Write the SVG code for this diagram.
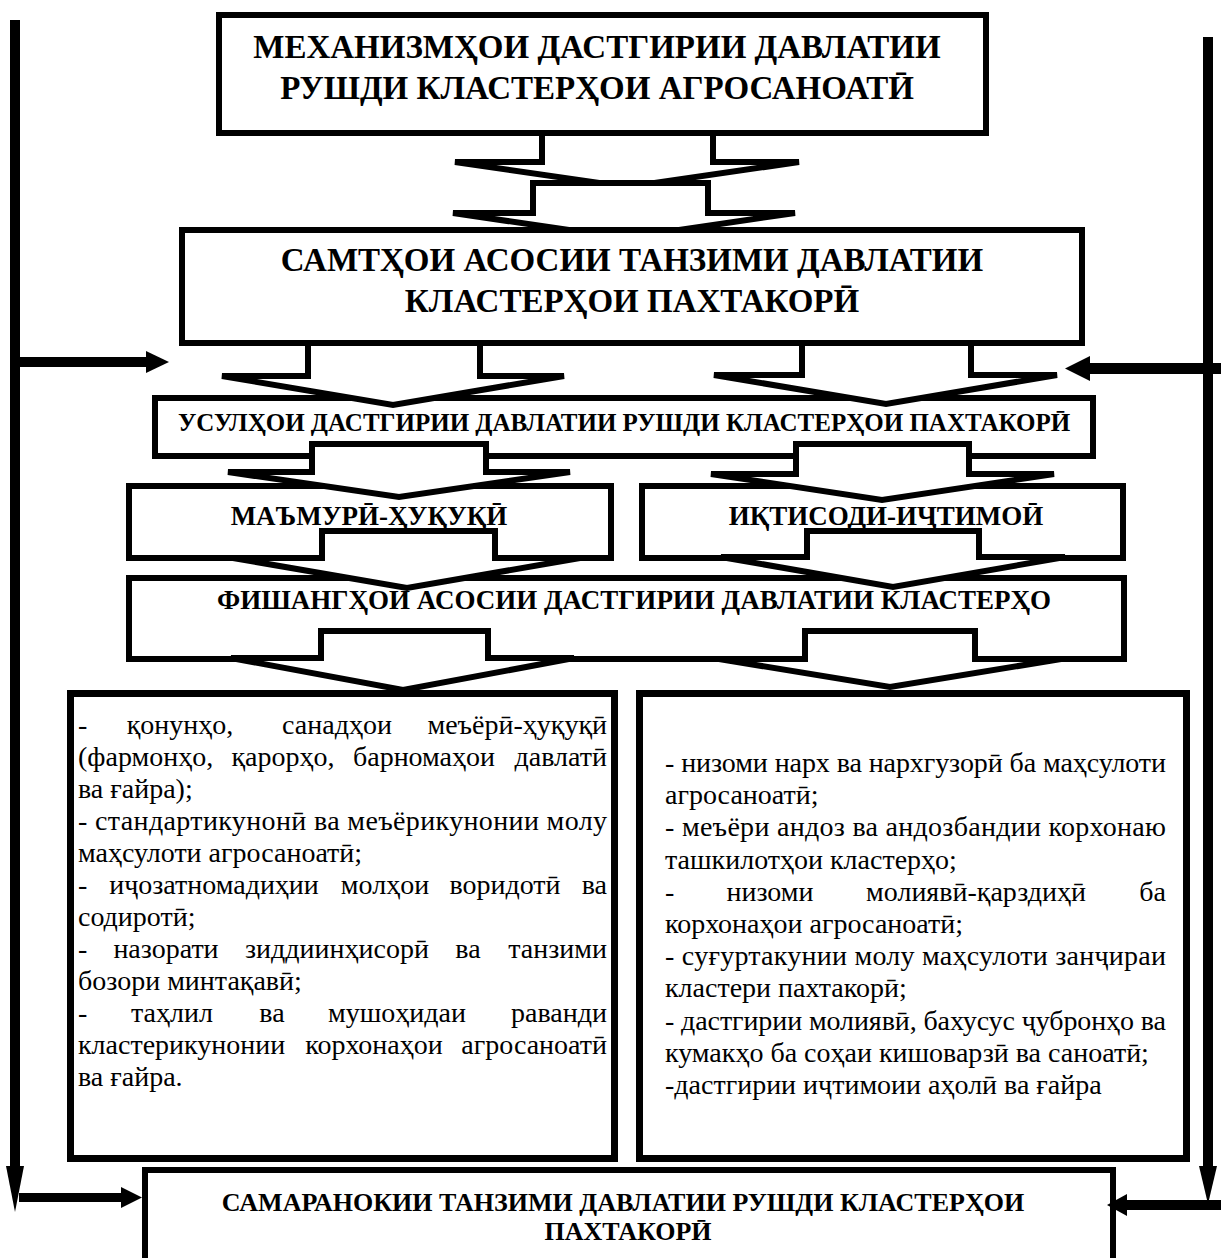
<svg xmlns="http://www.w3.org/2000/svg" width="1221" height="1258" viewBox="0 0 1221 1258">
<style>
.box{fill:#fff;stroke:#000;stroke-width:6}
.blk{fill:#fff;stroke:#000;stroke-width:6;stroke-linejoin:miter}
.ln{fill:#000;stroke:none}
.h{font-family:'Liberation Serif','DejaVu Serif',serif;font-weight:bold;text-anchor:middle;fill:#000}
.b{font-family:'Liberation Serif','DejaVu Serif',serif;font-size:28px;fill:#000}
.m{text-anchor:middle}
.e{text-anchor:end}
</style>
<rect x="0" y="0" width="1221" height="1258" fill="#fff"/>

<g id="n1">
<rect class="box" x="219" y="15" width="767" height="118"/>
<text class="h" font-size="33" x="597" y="58">МЕХАНИЗМҲОИ ДАСТГИРИИ ДАВЛАТИИ</text>
<text class="h" font-size="33" x="597" y="99">РУШДИ КЛАСТЕРҲОИ АГРОСАНОАТӢ</text>
</g>

<g id="n2">
<rect class="box" x="182" y="230" width="900" height="113"/>
<text class="h" font-size="33" x="632" y="271">САМТҲОИ АСОСИИ ТАНЗИМИ ДАВЛАТИИ</text>
<text class="h" font-size="33" x="632" y="312">КЛАСТЕРҲОИ ПАХТАКОРӢ</text>
</g>

<g id="n3">
<rect class="box" x="155" y="398" width="938" height="58"/>
<text class="h" font-size="25" x="624" y="431">УСУЛҲОИ ДАСТГИРИИ ДАВЛАТИИ РУШДИ КЛАСТЕРҲОИ ПАХТАКОРӢ</text>
</g>

<g id="n4a">
<rect class="box" x="129" y="486" width="482" height="72"/>
<text class="h" font-size="27" x="369" y="525">МАЪМУРӢ-ҲУҚУҚӢ</text>
</g>

<g id="n4b">
<rect class="box" x="642" y="486" width="481" height="72"/>
<text class="h" font-size="27" x="886" y="525">ИҚТИСОДИ-ИҶТИМОӢ</text>
</g>

<g id="n5">
<rect class="box" x="129" y="578" width="995" height="81"/>
<text class="h" font-size="27" x="634" y="609">ФИШАНГҲОИ АСОСИИ ДАСТГИРИИ ДАВЛАТИИ КЛАСТЕРҲО</text>
</g>

<g id="n6a">
<rect class="box" x="70.5" y="693.5" width="544" height="465" style="stroke-width:7"/>
<text class="b" x="78" y="734">-</text>
<text class="b m" x="180" y="734">қонунҳо,</text>
<text class="b m" x="337" y="734">санадҳои</text>
<text class="b e" x="607" y="734">меъёрӣ-ҳуқуқӣ</text>
<text class="b" x="78" y="766">(фармонҳо,</text>
<text class="b m" x="283" y="766">қарорҳо,</text>
<text class="b m" x="424" y="766">барномаҳои</text>
<text class="b e" x="607" y="766">давлатӣ</text>
<text class="b" x="78" y="798">ва ғайра);</text>
<text class="b" x="78" y="830" textLength="529" lengthAdjust="spacing">- стандартикунонӣ ва меъёрикунонии молу</text>
<text class="b" x="78" y="862">маҳсулоти агросаноатӣ;</text>
<text class="b" x="78" y="894">-</text>
<text class="b m" x="214" y="894">иҷозатномадиҳии</text>
<text class="b m" x="385" y="894">молҳои</text>
<text class="b m" x="505" y="894">воридотӣ</text>
<text class="b e" x="607" y="894">ва</text>
<text class="b" x="78" y="926">содиротӣ;</text>
<text class="b" x="78" y="958">-</text>
<text class="b m" x="166" y="958">назорати</text>
<text class="b m" x="337" y="958">зиддиинҳисорӣ</text>
<text class="b m" x="468" y="958">ва</text>
<text class="b e" x="607" y="958">танзими</text>
<text class="b" x="78" y="990">бозори минтақавӣ;</text>
<text class="b" x="78" y="1022">-</text>
<text class="b m" x="172" y="1022">таҳлил</text>
<text class="b m" x="272" y="1022">ва</text>
<text class="b m" x="397" y="1022">мушоҳидаи</text>
<text class="b e" x="607" y="1022">раванди</text>
<text class="b" x="78" y="1054">кластерикунонии</text>
<text class="b m" x="374" y="1054">корхонаҳои</text>
<text class="b e" x="607" y="1054">агросаноатӣ</text>
<text class="b" x="78" y="1086">ва ғайра.</text>
</g>

<g id="n6b">
<rect class="box" x="639.5" y="693.5" width="547" height="465" style="stroke-width:7"/>
<text class="b" x="665" y="772" textLength="501" lengthAdjust="spacing">- низоми нарх ва нархгузорӣ ба маҳсулоти</text>
<text class="b" x="665" y="804">агросаноатӣ;</text>
<text class="b" x="665" y="836" textLength="501" lengthAdjust="spacing">- меъёри андоз ва андозбандии корхонаю</text>
<text class="b" x="665" y="869">ташкилотҳои кластерҳо;</text>
<text class="b" x="665" y="901">-</text>
<text class="b m" x="770" y="901">низоми</text>
<text class="b m" x="976" y="901">молиявӣ-қарздиҳӣ</text>
<text class="b e" x="1166" y="901">ба</text>
<text class="b" x="665" y="933">корхонаҳои агросаноатӣ;</text>
<text class="b" x="665" y="965" textLength="501" lengthAdjust="spacing">- суғуртакунии молу маҳсулоти занҷираи</text>
<text class="b" x="665" y="997">кластери пахтакорӣ;</text>
<text class="b" x="665" y="1030" textLength="501" lengthAdjust="spacing">- дастгирии молиявӣ, бахусус ҷубронҳо ва</text>
<text class="b" x="665" y="1062">кумакҳо ба соҳаи кишоварзӣ ва саноатӣ;</text>
<text class="b" x="665" y="1094">-дастгирии иҷтимоии аҳолӣ ва ғайра</text>
</g>

<g id="n7">
<rect class="box" x="145" y="1170" width="968" height="110"/>
<text class="h" font-size="26" x="623" y="1211">САМАРАНОКИИ ТАНЗИМИ ДАВЛАТИИ РУШДИ КЛАСТЕРҲОИ</text>
<text class="h" font-size="26" x="628" y="1240">ПАХТАКОРӢ</text>
</g>

<g id="connectors">
<polygon class="blk" points="542,133 542,162 455,162 627,187 799,162 713,162 713,133"/>
<polygon class="blk" points="533,183 533,213 453,213 569,230 679,230 795,213 708,213 708,183"/>
<polygon class="blk" points="308,343 308,376 222,376 393,405 564,376 480,376 480,343"/>
<polygon class="blk" points="802,343 802,375 714,375 886,404 1057,375 971,375 971,343"/>
<polygon class="blk" points="312,444 312,472 228,472 399,497 570,472 486,472 486,444"/>
<polygon class="blk" points="796,444 796,474 711,474 882,500 1054,474 969,474 969,444"/>
<polygon class="blk" points="322,531 322,558 233,558 407,588 580,558 495,558 495,531"/>
<polygon class="blk" points="807,531 807,557 721,557 893,587 1065,557 979,557 979,531"/>
<polygon class="blk" points="321,631 321,658 231,658 403,690 574,658 488,658 488,631"/>
<polygon class="blk" points="805,631 805,659 719,659 890,687 1061,659 975,659 975,631"/>

<rect class="ln" x="10" y="20" width="10" height="1148"/>
<polygon class="ln" points="6,1166 24,1166 15,1212"/>
<rect class="ln" x="19" y="1193" width="103" height="9"/>
<polygon class="ln" points="121,1187 142,1197.5 121,1208"/>
<rect class="ln" x="19" y="357" width="128" height="10"/>
<polygon class="ln" points="146,351 169,362 146,373"/>

<rect class="ln" x="1203" y="37" width="10" height="1131"/>
<polygon class="ln" points="1199,1166 1217,1166 1208,1204"/>
<rect class="ln" x="1089" y="363" width="132" height="11"/>
<polygon class="ln" points="1090,356 1065,368.5 1090,381"/>
<rect class="ln" x="1126" y="1200" width="95" height="10"/>
<polygon class="ln" points="1127,1194 1107,1205 1127,1216"/>
</g>
</svg>
